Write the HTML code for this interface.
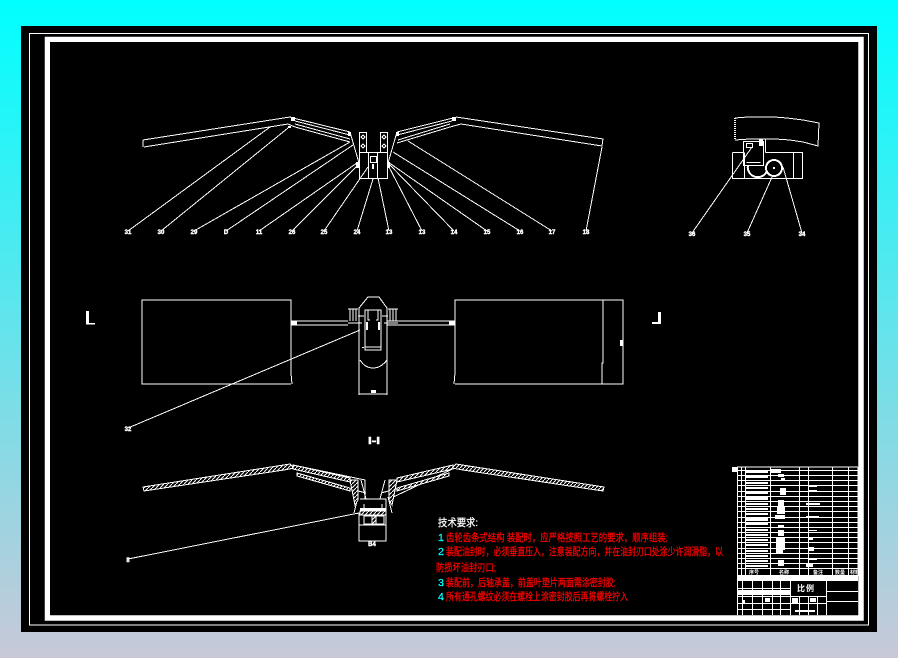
<!DOCTYPE html>
<html><head><meta charset="utf-8"><style>
html,body{margin:0;padding:0;width:898px;height:658px;overflow:hidden;background:linear-gradient(#00ffff,#c8c8d8)}
svg{display:block;position:absolute;left:0;top:0}
text{font-family:"Liberation Sans","WenQuanYi Zen Hei","Noto Sans CJK SC",sans-serif}
.l{fill:#fff;font-size:6px;font-weight:bold;stroke:#fff;stroke-width:.4}
.c{font-size:10.500px;font-family:"WenQuanYi Zen Hei","Noto Sans CJK SC",sans-serif;stroke-width:.25}
.t{fill:#fff;font-size:4px;font-weight:bold}
.b{fill:#fff;font-size:8px;font-weight:bold}
</style></head><body>
<svg width="898" height="658" viewBox="0 0 898 658" xmlns="http://www.w3.org/2000/svg">
<defs>
<pattern id="h" width="4" height="4" patternUnits="userSpaceOnUse"><rect width="4" height="4" fill="#000"/><path d="M0 4L4 0" stroke="#fff" stroke-width="1"/></pattern>
</defs>
<rect x="21" y="26" width="856" height="606" fill="#000"/>
<g fill="none" stroke="#fff" stroke-width="1" shape-rendering="crispEdges">
<rect x="29.500" y="33.500" width="839" height="591.500"/>
</g>
<rect x="47.500" y="39.500" width="813.500" height="578.500" fill="none" stroke="#fff" stroke-width="5.500"/>
<rect x="50" y="42" width="808" height="573" fill="#000"/>

<g fill="none" stroke="#fff" stroke-width="1" shape-rendering="crispEdges">
<!-- top view -->
<path d="M143 140L290 117L293 118L350 132M144 147L288 124L295 127L350 142M143 140V147M295 121L350 135M295 124L350 139"/>
<path d="M456 117L603 139L602 146L461 124L450 127L397 143M453 118L397 132M452 121L397 135M450 124L398 140"/>
<path d="M359.500 132.500H366.500V152.500H359.500ZM380.500 132.500H387.500V152.500H380.500ZM359.500 152.500H387.500V178.500H359.500ZM368.500 152.500V178.500M377.500 152.500V178.500M370.500 156.500H376.500V162.500H370.500Z"/>
<path d="M363 135L365 137L363 139L361 137ZM363 144L365 146L363 148L361 146ZM384 135L386 137L384 139L382 137ZM384 144L386 146L384 148L382 146Z"/>
<path d="M350 132L359 163M397 132L388 163"/>
<path d="M128 231L270 127M161 231L288 128M194 231L350 142M226 231L353 145M259 231L357 163M292 231L357 166M324 231L368 167M357 231L373 179"/>
<path d="M389 231L378 178M422 231L388 165M454 231L388 163M487 231L388 162M520 231L393 152M552 231L408 141M586 231L602 147"/>
<!-- right view -->
<path d="M735 118L748 117L760 117L774 117L787 118L803 120L819 123L818 146L803 142L790 140L775 139L765 139L750 139L735 140"/>
<path d="M732.500 152.500V178.500H802.500V152.500H765.500M732.500 152.500H743.500M744.500 152.500V178.500M793.500 152.500V178.500M743.500 141.500H763.500V165.500H743.500ZM765.500 139.500V152.500M746.500 143.500H752.500V147.500H746.500ZM746.500 162.500H760.500M748.500 165.500H760.500"/>
<path d="M735 118V140" stroke-dasharray="1 1" stroke-width="2"/>
<path d="M748 165A10 10 0 0 0 767 171" stroke-width="2"/>
<circle cx="774" cy="168" r="8" stroke-width="2"/>
<path d="M692 233L752 147M747 233L772 177M802 233L783 167"/>
<!-- middle view -->
<path d="M291 384H142V300H291V373L292 384M455 384H623V300H455V373L454 384M603 300V363H602V384"/>
<path d="M291 321H348M291 325H348M387 321H455M387 325H455"/>
<path d="M359 395V308L368 297H379L387 308V395M359 394H387M359 391V395M387 391V395"/>
<path d="M360 360Q365 368 373 368T387 360M365 310H381V350H365ZM365 347H381M368 310V320H370M378 310V320H376"/>
<path d="M348 309H358M350 309V321M353 309V321M356 309V321M348 323H362M388 309H398M390 309V321M393 309V321M396 309V321M384 323H398M358 316H364M382 316H388"/>
<path d="M128 428L360 330"/>
<!-- bottom view -->
<path d="M293 465L365 480V499M297 475L366 493M361 480L366 499M389 480V499L461 465M449 475L381 493M385 480L380 499"/>
<path d="M359 513V541H386V513M359 525H386M360 499H386V513H359M364 504V513M382 504V513M364 516H372V524H364ZM376 516H384V524H376ZM358 497L354 513M388 497L392 513"/>
<path d="M128 559L359 513"/>
</g>

<g shape-rendering="crispEdges" fill="#fff">
<rect x="291" y="321" width="6" height="4"/>
<rect x="449" y="321" width="6" height="4"/>
<rect x="620" y="340" width="3" height="6"/>
<rect x="371" y="390" width="5" height="3"/>
<rect x="362" y="347" width="2" height="1"/>
<rect x="366" y="322" width="2" height="8"/>
<rect x="378" y="322" width="2" height="8"/>
<rect x="372" y="164" width="2" height="5"/>
<rect x="356" y="162" width="3" height="6"/>
<rect x="388" y="162" width="2" height="6"/>
<rect x="348" y="132" width="3" height="4"/>
<rect x="396" y="132" width="3" height="4"/>
<rect x="452" y="117" width="4" height="4"/>
<rect x="291" y="117" width="4" height="4"/>
<rect x="288" y="126" width="3" height="2"/>
<rect x="759" y="139" width="4" height="7"/>
<rect x="360" y="508" width="26" height="3"/>
<rect x="773" y="167" width="2" height="2"/>
<!-- L markers -->
<rect x="86" y="311" width="3" height="13"/>
<rect x="86" y="323" width="9" height="1.500"/>
<rect x="658" y="312" width="3" height="12"/>
<rect x="652" y="322" width="9" height="2"/>
</g>

<!-- hatched wings -->
<g stroke="#fff" stroke-width="1" fill="url(#h)" shape-rendering="crispEdges">
<polygon points="143,487 290,464 294,468 284,470 144,491"/>
<polygon points="293,465 350,478 350,482 293,469"/>
<polygon points="297,473 350,488 350,491 297,476"/>
<polygon points="604,487 456,464 452,468 463,470 603,491"/>
<polygon points="453,465 397,478 397,482 453,469"/>
<polygon points="449,473 397,488 397,491 449,476"/>
<polygon points="360,511 386,511 386,515 360,515"/>
<polygon points="372,516 376,516 376,524 372,524"/>
<polygon points="350,480 358,480 358,500 355,505"/>
<polygon points="397,480 389,480 389,500 392,505"/>
</g>

<!-- labels -->
<g class="l" text-anchor="middle">
<text x="128" y="234">31</text><text x="161" y="234">30</text><text x="194" y="234">29</text><text x="226" y="234">D</text><text x="259" y="234">11</text><text x="292" y="234">26</text><text x="324" y="234">25</text><text x="357" y="234">24</text>
<text x="389" y="234">13</text><text x="422" y="234">13</text><text x="454" y="234">14</text><text x="487" y="234">15</text><text x="520" y="234">16</text><text x="552" y="234">17</text><text x="586" y="234">18</text>
<text x="692" y="236">36</text><text x="747" y="236">35</text><text x="802" y="236">34</text>
<text x="128" y="431">32</text><text x="128" y="562">II</text><text x="372" y="546">B4</text>
</g>
<text x="368" y="444" fill="#fff" stroke="#fff" stroke-width=".5" font-size="10" font-weight="bold" textLength="12" lengthAdjust="spacingAndGlyphs">I-I</text>

<!-- tech requirements -->
<g class="c" fill="#f00" stroke="#f00">
<text x="438" y="526" fill="#fff" stroke="#fff" textLength="40" lengthAdjust="spacingAndGlyphs">技术要求:</text>
<text x="438" y="541" fill="#00ffff" stroke="#00ffff" textLength="6">1.</text>
<text x="446" y="541" textLength="222" lengthAdjust="spacingAndGlyphs">齿轮齿条式结构 装配时，应严格按照工艺的要求，顺序组装;</text>
<text x="438" y="555" fill="#00ffff" stroke="#00ffff" textLength="6">2.</text>
<text x="446" y="555" textLength="277" lengthAdjust="spacingAndGlyphs">装配油封时，必须垂直压入，注意装配方向，并在油封刃口处涂少许润滑脂，以</text>
<text x="436" y="571" textLength="60" lengthAdjust="spacingAndGlyphs">防损坏油封刃口;</text>
<text x="438" y="586" fill="#00ffff" stroke="#00ffff" textLength="6">3.</text>
<text x="446" y="586" textLength="170" lengthAdjust="spacingAndGlyphs">装配前，后轴承盖，前盖叶垫片两面需涂密封胶;</text>
<text x="438" y="600" fill="#00ffff" stroke="#00ffff" textLength="6">4.</text>
<text x="446" y="600" textLength="182" lengthAdjust="spacingAndGlyphs">所有通孔螺纹必须在螺栓上涂密封胶后再将螺栓拧入</text>
</g>

<!-- parts table -->
<rect x="732" y="467" width="6" height="5" fill="#fff" shape-rendering="crispEdges"/>
<g fill="none" stroke="#fff" stroke-width="1" shape-rendering="crispEdges">
<path d="M737 467H858M737 470.500H858M737 475.500H858M737 480.500H858M737 485.500H858M737 491.500H858M737 496.500H858M737 501.500H858M737 506.500H858M737 511.500H858M737 517.500H858M737 522.500H858M737 527.500H858M737 532.500H858M737 537.500H858M737 542.500H858M737 548.500H858M737 553.500H858M737 558.500H858M737 563.500H858M737 568.500H858M737 575.500H858"/>
<path d="M737.500 467V576M741.500 467V576M745.500 467V576M770.500 467V576M799.500 467V576M808.500 467V576M832.500 467V576M848.500 467V576M858 467V576"/>
<path d="M737.500 581V615M790.500 581V615M826.500 581V615M826 591.500H858M826 601.500H858M737 588.500H790M737 596.500H826M737 603.500H826M737 609.500H790M742.500 581V615M752.500 581V615M762.500 581V615M772.500 581V615M780.500 581V615M799.500 596V615M808.500 596V615M817.500 596V615"/>
</g>
<rect x="737" y="576" width="121" height="5" fill="#fff" shape-rendering="crispEdges"/>
<g fill="#fff" shape-rendering="crispEdges">
<rect x="746" y="471" width="22" height="2"/><rect x="746" y="476" width="22" height="2"/><rect x="746" y="482" width="22" height="2"/><rect x="746" y="487" width="22" height="2"/><rect x="746" y="492" width="22" height="2"/><rect x="746" y="497" width="22" height="3"/><rect x="746" y="503" width="22" height="2"/><rect x="746" y="508" width="22" height="2"/><rect x="746" y="513" width="22" height="2"/><rect x="746" y="518" width="22" height="3"/><rect x="746" y="523" width="22" height="2"/><rect x="746" y="529" width="22" height="2"/><rect x="746" y="534" width="22" height="2"/><rect x="746" y="539" width="22" height="2"/><rect x="746" y="544" width="22" height="2"/><rect x="746" y="550" width="22" height="2"/><rect x="746" y="555" width="22" height="2"/><rect x="746" y="560" width="22" height="2"/><rect x="746" y="565" width="22" height="2"/>
<rect x="771" y="469" width="10" height="4"/><rect x="778" y="474" width="6" height="3"/><rect x="781" y="478" width="4" height="3"/><rect x="780" y="488" width="6" height="7"/><rect x="778" y="500" width="6" height="6"/><rect x="777" y="506" width="8" height="8"/><rect x="775" y="515" width="10" height="4"/><rect x="778" y="525" width="6" height="3"/><rect x="778" y="530" width="6" height="6"/><rect x="776" y="538" width="9" height="12"/><rect x="776" y="550" width="7" height="3"/><rect x="778" y="560" width="6" height="6"/>
<rect x="809" y="486" width="8" height="1"/><rect x="809" y="490" width="8" height="1"/><rect x="806" y="503" width="14" height="2"/><rect x="806" y="516" width="13" height="2"/><rect x="809" y="530" width="8" height="1"/><rect x="808" y="537" width="5" height="3"/><rect x="808" y="547" width="6" height="4"/><rect x="809" y="559" width="8" height="1"/><rect x="806" y="564" width="7" height="3"/>
</g>
<g class="t">
<text x="749" y="574" font-size="5">序号</text><text x="779" y="574" font-size="5">名称</text><text x="813" y="574" font-size="5">备注</text><text x="835" y="574" font-size="5">数量</text><text x="850" y="574" font-size="5">材料</text>
</g>
<g fill="#fff" shape-rendering="crispEdges">
<rect x="738" y="590" width="52" height="5"/>
<rect x="742" y="600" width="3" height="3"/>
<rect x="765" y="598" width="5" height="4"/>
<rect x="792" y="598" width="6" height="5"/>
<rect x="810" y="598" width="6" height="4"/>
<rect x="795" y="610" width="20" height="2"/>
</g>
<text class="b" x="797" y="591" textLength="17" font-family="WenQuanYi Zen Hei,Noto Sans CJK SC,sans-serif">比例</text>
</svg>
</body></html>
